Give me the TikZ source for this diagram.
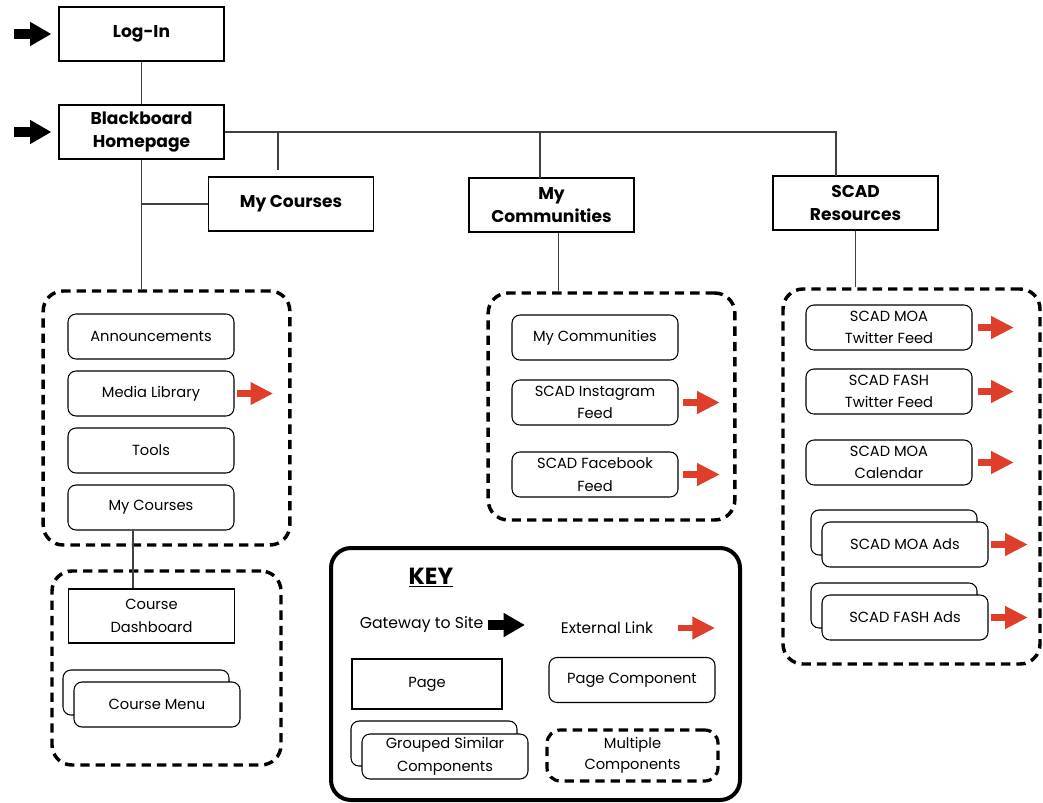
\documentclass[tikz,border=0pt]{standalone}
\usepackage{fontspec}
\setmainfont{Poppins}
\usepackage{tikz}
\usetikzlibrary{arrows.meta}
\definecolor{extred}{RGB}{222,62,42}

\tikzset{
  page/.style={draw, line width=1.1pt, minimum width=124pt, minimum height=40.5pt, align=center,
    font=\bfseries\fontsize{12.8}{17.5}\selectfont},
  plainpage/.style={page, font=\fontsize{11}{17}\selectfont},
  comp/.style={draw, line width=0.8pt, rounded corners=6pt, fill=white, minimum width=124.5pt,
    minimum height=33.75pt, align=center, font=\fontsize{11}{17}\selectfont, inner sep=1pt},
  group/.style={draw, line width=2.6pt, dash pattern=on 7pt off 4.5pt, rounded corners=15pt},
  link/.style={line width=0.8pt, black!75},
  gate/.style={line width=7.5pt, -{Triangle[length=16pt,width=17pt]}},
  extlink/.style={line width=5pt, extred, -{Triangle[length=17pt,width=16pt]}}
}

\begin{document}
\begin{tikzpicture}[x=0.75pt,y=-0.75pt]
\useasboundingbox (0,0) rectangle (1043,803);

% pages
\node[page] (login) at (141.5,34) {Log-In};
\node[page] (home) at (141.5,132) {Blackboard\\Homepage};
\node[page] (courses) at (291,204) {My Courses};
\node[page] (comms) at (551.5,205) {My\\Communities};
\node[page] (res) at (855.5,203) {SCAD\\Resources};

% gateways
\draw[gate] ([xshift=-33pt]login.west) -- ([xshift=-5pt]login.west);
\draw[gate] ([xshift=-33pt]home.west) -- ([xshift=-5pt]home.west);

% groups
\node[group, minimum width=185pt, minimum height=190.5pt] (crsgroup) at (166.5,418) {};
\node[group, minimum width=171.75pt, minimum height=145.5pt] (dashgroup) at (166.5,668) {};
\node[group, minimum width=185pt, minimum height=170.25pt] (commgroup) at (611.5,406.5) {};
\node[group, minimum width=192.75pt, minimum height=281.25pt] (resgroup) at (911.5,476.5) {};

% course components
\node[comp] (ann) at (151,336.5) {Announcements};
\node[comp] (media) at (151,393.5) {Media Library};
\node[comp] (tools) at (151,450.5) {Tools};
\node[comp] (myc) at (151,507.5) {My Courses};
\draw[extlink] ([xshift=2pt]media.east) -- ++(27pt,0);

\node[plainpage, line width=0.9pt] (dash) at (151.5,616) {Course\\Dashboard};
\node[comp] (menuback) at (146,692.5) {};
\node[comp] (menu) at (157,704.5) {Course Menu};

% community components
\node[comp] (mycomm) at (595,337.5) {My Communities};
\node[comp] (insta) at (595,402.5) {SCAD Instagram\\Feed};
\node[comp] (fb) at (595,474.5) {SCAD Facebook\\Feed};
\draw[extlink] ([xshift=3pt]insta.east) -- ++(28pt,0);
\draw[extlink] ([xshift=3pt]fb.east) -- ++(28pt,0);

% resource components
\node[comp] (moatw) at (889,327.5) {SCAD MOA\\Twitter Feed};
\node[comp] (fashtw) at (889,391.5) {SCAD FASH\\Twitter Feed};
\node[comp] (moacal) at (889,462.5) {SCAD MOA\\Calendar};
\node[comp] (moaback) at (894,532.5) {};
\node[comp] (moaads) at (905,544.5) {SCAD MOA Ads};
\node[comp] (fashback) at (894,605.5) {};
\node[comp] (fashads) at (905,617.5) {SCAD FASH Ads};
\draw[extlink] ([xshift=4pt]moatw.east) -- ++(27pt,0);
\draw[extlink] ([xshift=4pt]fashtw.east) -- ++(27pt,0);
\draw[extlink] ([xshift=4pt]moacal.east) -- ++(27pt,0);
\draw[extlink] ([xshift=1.5pt]moaads.east) -- ++(28pt,0);
\draw[extlink] ([xshift=1.5pt]fashads.east) -- ++(28pt,0);

% connectors
\coordinate (crsdrop) at (278,170);
\coordinate (comdrop) at (540,178);
\coordinate (resdrop) at (836,176);
\coordinate (dashlink) at (133,560);
\draw[link] (login) -- (home);
\draw[link] (home.east) -| (resdrop);
\draw[link] (crsdrop |- home.east) -- (crsdrop);
\draw[link] (comdrop |- home.east) -- (comdrop);
\draw[link] (home.south) -- (home.south |- crsgroup.north);
\draw[link] (courses.west) -- (courses.west -| home.south);
\draw[link] (dashlink |- myc.south) -- (dashlink |- dash.north);
\draw[link] ([xshift=5pt]comms.south) -- ([xshift=5pt]comms.south |- commgroup.north);
\draw[link] (res.south) -- (res.south |- resgroup.north);

% key
\node[draw, line width=3pt, rounded corners=15pt, minimum width=306.75pt, minimum height=189pt] (key) at (535.5,674) {};
\node[font=\bfseries\fontsize{17.5}{20}\selectfont] (keytitle) at (431,578) {\underline{KEY}};
\node[anchor=east, font=\fontsize{11.8}{15}\selectfont, inner sep=1pt] (gwtext) at (485,625) {Gateway to Site};
\draw[gate] ([xshift=2pt]gwtext.east) -- ++(28pt,0);
\node[font=\fontsize{11.5}{15}\selectfont] (exttext) at (607,628) {External Link};
\draw[extlink] ([xshift=15pt]exttext.east) -- ++(28pt,0);
\node[plainpage, minimum width=112.5pt, minimum height=37.5pt] (pagekey) at (427,684) {Page};
\node[comp] (compkey) at (632,680) {Page Component};
\node[comp] (groupback) at (434,743.5) {};
\node[comp] (groupkey) at (445,756.5) {Grouped Similar\\Components};
\node[group, line width=2.4pt, rounded corners=10pt, minimum width=128.25pt, minimum height=38.25pt,
  align=center, font=\fontsize{11}{16}\selectfont] (multikey) at (632.5,755.5) {Multiple\\Components};
\end{tikzpicture}
\end{document}
